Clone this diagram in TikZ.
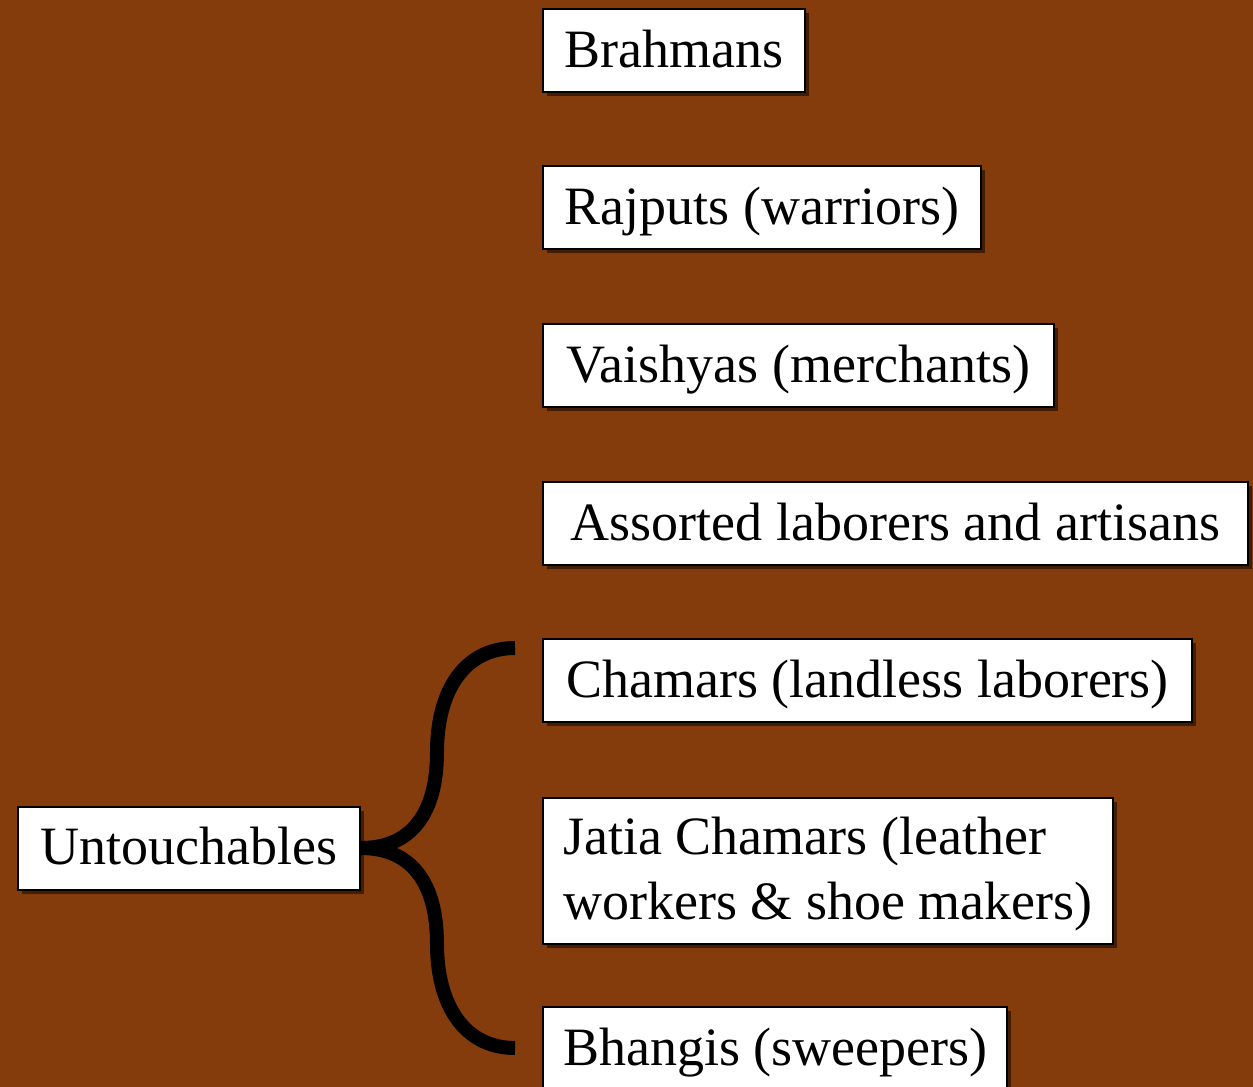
\documentclass[tikz,border=0pt]{standalone}
\usepackage{fontspec}
\setmainfont{Liberation Serif}
\usetikzlibrary{shadows}
\definecolor{castebg}{RGB}{132,60,12}
\tikzset{
  caste/.style={draw=black, line width=1pt, fill=white, anchor=north west,
    inner xsep=10pt, inner ysep=0pt, text height=29pt, text depth=12.5pt,
    minimum width=#1,
    drop shadow={shadow xshift=2pt, shadow yshift=-2pt, opacity=0.5, fill=black}},
  brace/.style={line width=7pt, line cap=butt}
}
\begin{document}
\begin{tikzpicture}[x=0.5pt, y=-0.5pt, font=\fontsize{27}{32.5}\selectfont]
    \clip (0,0) rectangle (1253,1087);
    \fill[castebg] (0,0) rectangle (1253,1087);
    % castes
    \node[caste=131pt] (brahmans) at (542,8) {Brahmans};
    \node[caste=219pt] (rajputs) at (542,165) {Rajputs (warriors)};
    \node[caste=255.5pt] (vaishyas) at (542,323) {Vaishyas (merchants)};
    \node[caste=352.5pt] (assorted) at (542,481) {Assorted laborers and artisans};
    \node[caste=324.5pt] (chamars) at (542,638) {Chamars (landless laborers)};
    \node[caste=285pt, align=left, text height=60.5pt] (jatia) at (542,797)
        {Jatia Chamars (leather\\workers \& shoe makers)};
    \node[caste=231.5pt] (bhangis) at (542,1006) {Bhangis (sweepers)};
    \node[caste=171pt, anchor=west] (untouch) at (17,848) {Untouchables};
    % the brace from the untouchables to their groups
    \coordinate (bracetop) at (515,648);
    \coordinate (bracebot) at (515,1048);
    \draw[brace] (bracetop) .. controls (465,648) and (437,690) .. (437,752)
        .. controls (437,815) and (410,848) .. (untouch.east);
    \draw[brace] (bracebot) .. controls (465,1048) and (437,1006) .. (437,944)
        .. controls (437,881) and (410,848) .. (untouch.east);
\end{tikzpicture}
\end{document}
